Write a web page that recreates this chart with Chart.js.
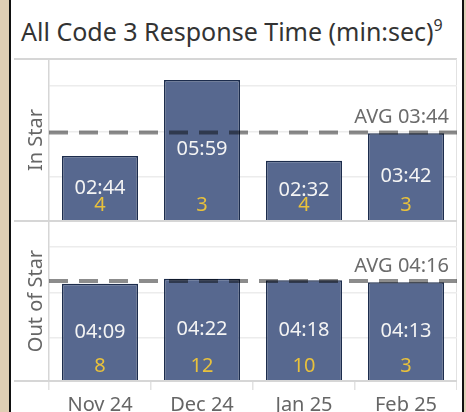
<!DOCTYPE html>
<html>
<head>
<meta charset="utf-8">
<script src="https://cdn.jsdelivr.net/npm/chart.js@4.4.1/dist/chart.umd.min.js"></script>
<style>
  html, body { margin: 0; padding: 0; }
  body { width: 466px; height: 412px; overflow: hidden; background: #dfceb4; position: relative; font-family: "Noto Sans", sans-serif; }
  #card { position: absolute; left: 9px; top: 0; width: 451px; height: 412px; background: #fff; border-left: 2px solid #111; border-right: 2px solid #111; }
  #title { position: absolute; left: 21px; top: 11px; font-size: 25px; line-height: 30px; color: #333; white-space: nowrap; }
  #title sup { font-size: 16px; position: relative; top: -1px; }
  .hline { position: absolute; left: 14px; width: 443px; height: 2px; background: #d6d6d6; }
  .vline { position: absolute; left: 456px; top: 59px; width: 1px; height: 322px; background: #e2e2e2; }
  canvas { position: absolute; left: 14px; }
  #inStar { top: 60px; }
  #outStar { top: 221px; }
</style>
</head>
<body>
<div id="card"></div>
<div id="title">All Code 3 Response Time (min:sec)<sup>9</sup></div>
<div class="hline" style="top:58px"></div>
<div class="vline"></div>
<canvas id="inStar" width="443" height="160"></canvas>
<canvas id="outStar" width="443" height="200"></canvas>
<div class="hline" style="top:220px"></div>
<div class="hline" style="top:380px"></div>
<script>
const months = ["Nov 24", "Dec 24", "Jan 25", "Feb 25"];
const inStarTimes = ["02:44", "05:59", "02:32", "03:42"];
const inStarCounts = [4, 3, 4, 3];
const inStarAvg = "03:44";
const outStarTimes = ["04:09", "04:22", "04:18", "04:13"];
const outStarCounts = [8, 12, 10, 3];
const outStarAvg = "04:16";
const gridTicks = [111, 227, 343];
const axisMax = 410;

const FONT = "Noto Sans";

function toSec(t) {
  const p = t.split(":").map(Number);
  return p[0] * 60 + p[1];
}

// labels inside bars + dashed average line
const barText = {
  id: "barText",
  afterDatasetsDraw(chart, args, opts) {
    const ctx = chart.ctx;
    const meta = chart.getDatasetMeta(0);
    const area = chart.chartArea;
    ctx.save();
    ctx.textAlign = "center";
    ctx.textBaseline = "alphabetic";
    meta.data.forEach(function (bar, i) {
      const mid = (bar.y + bar.base) / 2;
      ctx.font = "20px '" + FONT + "'";
      ctx.fillStyle = "#f4f4f4";
      ctx.fillText(opts.times[i], bar.x, mid + 5.5);
      ctx.fillStyle = "#e8c13c";
      ctx.fillText(opts.counts[i], bar.x, bar.base - 9.5);
    });

    const y = chart.scales.y.getPixelForValue(toSec(opts.avg));
    ctx.beginPath();
    ctx.setLineDash([19, 11]);
    ctx.lineWidth = 4;
    ctx.strokeStyle = "rgba(0,0,0,0.45)";
    ctx.moveTo(area.left, y);
    ctx.lineTo(area.right, y);
    ctx.stroke();
    ctx.setLineDash([]);

    ctx.textAlign = "right";
    ctx.font = "20px '" + FONT + "'";
    ctx.fillStyle = "#6b6b6b";
    ctx.fillText("AVG " + opts.avg, area.right - 8, y - 9.5);
    ctx.restore();
  }
};

function makePanel(id, name, times, counts, avg, showX) {
  return new Chart(document.getElementById(id), {
    type: "bar",
    data: {
      labels: months,
      datasets: [{
        data: times.map(toSec),
        backgroundColor: "#57688f",
        borderColor: "#1c2c4c",
        borderWidth: 1.5,
        barPercentage: 0.745,
        categoryPercentage: 1
      }]
    },
    options: {
      responsive: false,
      animation: false,
      devicePixelRatio: 1,
      layout: { padding: 0 },
      plugins: {
        legend: { display: false },
        tooltip: { enabled: false },
        barText: { times: times, counts: counts, avg: avg }
      },
      scales: {
        x: {
          display: showX,
          offset: true,
          grid: { drawOnChartArea: false, drawTicks: true, tickLength: 9, color: "#e2e2e2", lineWidth: 1.5, offset: true },
          border: { display: false },
          ticks: { font: { family: FONT, size: 20 }, color: "#666", padding: 3.5 },
          afterFit: function (s) { s.height = showX ? 40 : 0; }
        },
        y: {
          min: 0,
          max: axisMax,
          afterBuildTicks: function (s) { s.ticks = gridTicks.map(v => ({ value: v })); },
          afterFit: function (s) { s.width = 35; },
          ticks: { display: false },
          grid: { color: "#ececec", lineWidth: 1.5, drawTicks: false },
          border: { display: true, color: "#d6d6d6", width: 1.5 },
          title: { display: true, text: name, font: { family: FONT, size: 20 }, color: "#666", padding: { top: 10 } }
        }
      }
    },
    plugins: [barText]
  });
}

makePanel("inStar", "In Star", inStarTimes, inStarCounts, inStarAvg, false);
makePanel("outStar", "Out of Star", outStarTimes, outStarCounts, outStarAvg, true);
</script>
</body>
</html>
